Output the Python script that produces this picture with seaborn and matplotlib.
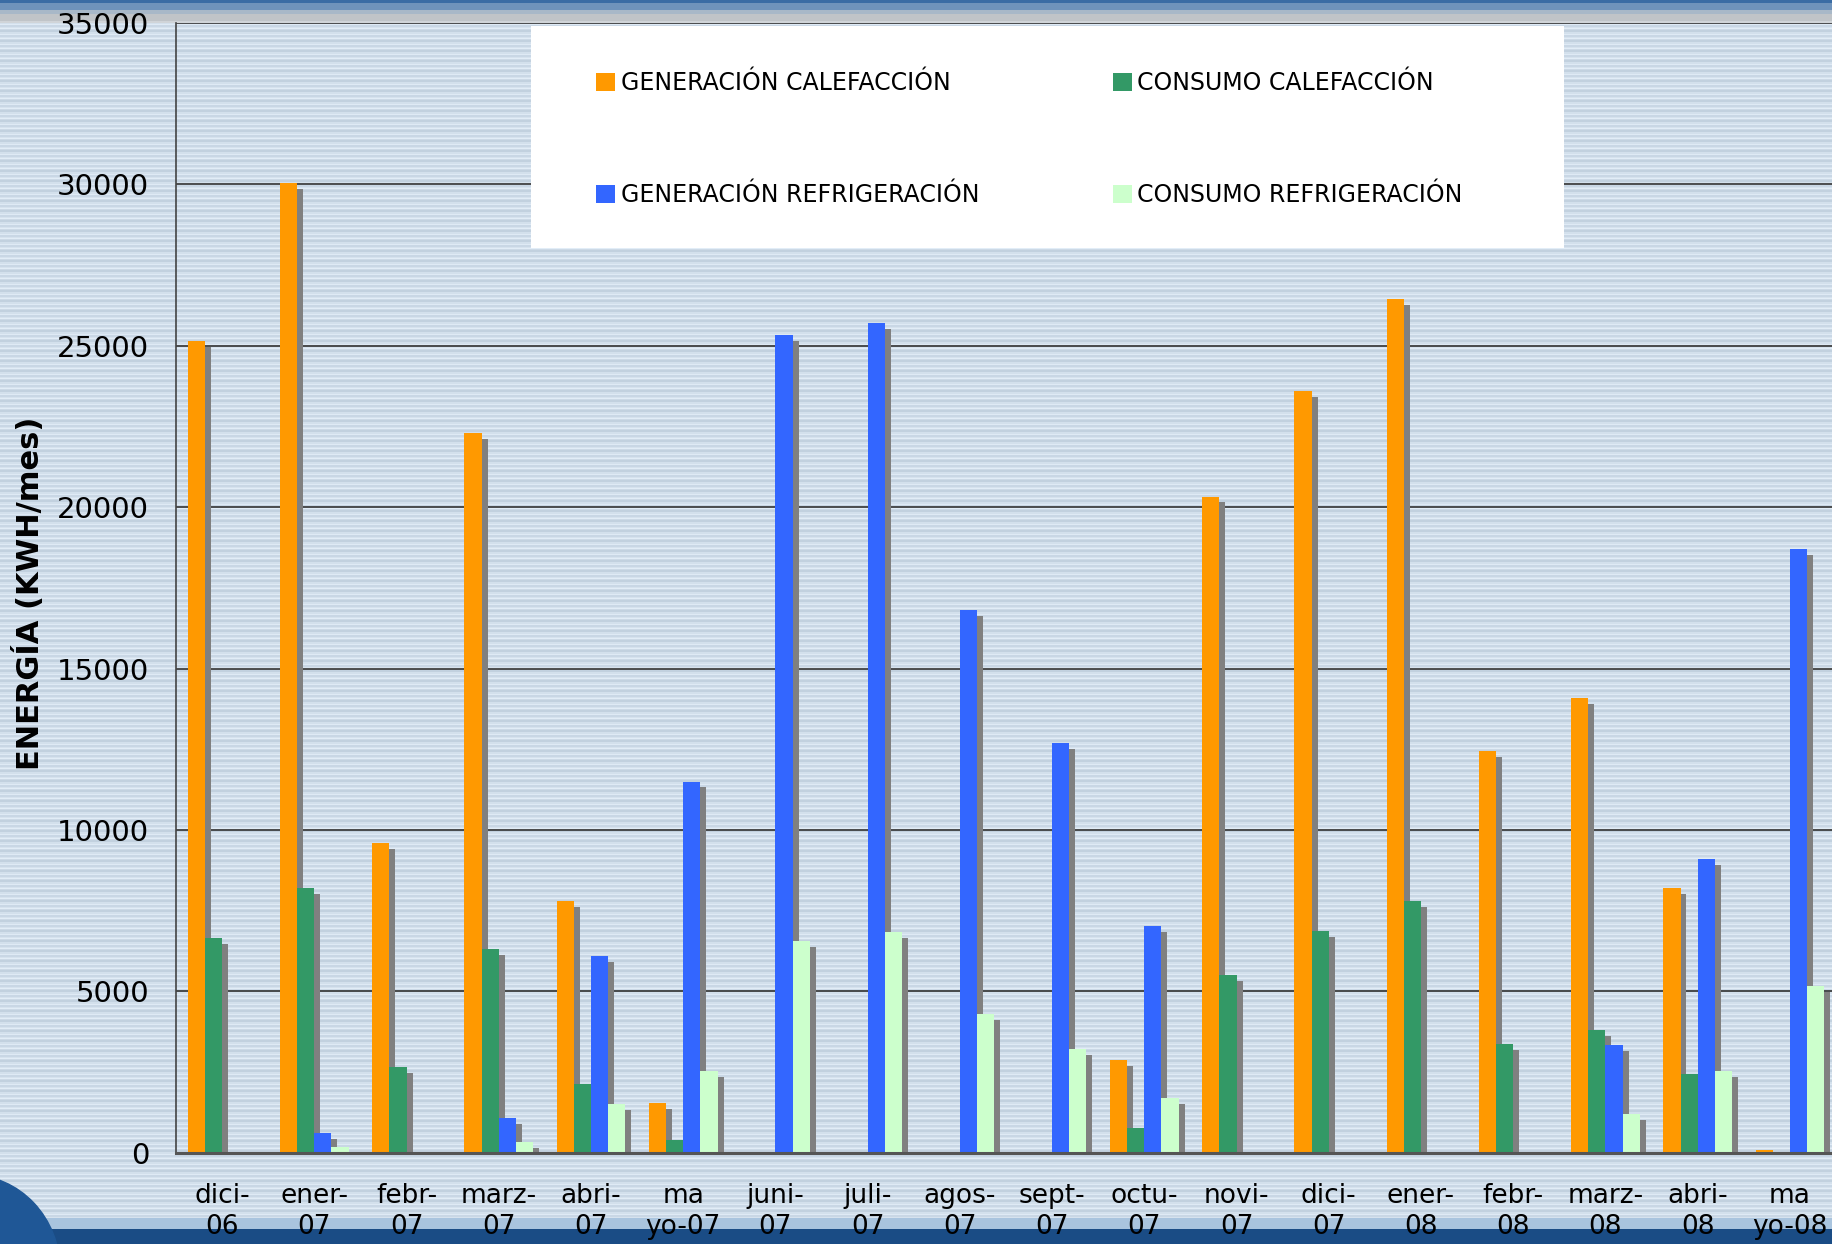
import numpy as np
import pandas as pd
import matplotlib
matplotlib.use("Agg")
import matplotlib.pyplot as plt
import matplotlib.patheffects as pe
from matplotlib.patches import Patch, Rectangle, Ellipse
from matplotlib.colors import to_rgb
import seaborn as sns

# datos (kWh/mes)
meses = ['dici-\n06', 'ener-\n07', 'febr-\n07', 'marz-\n07', 'abri-\n07', 'ma\nyo-07',
         'juni-\n07', 'juli-\n07', 'agos-\n07', 'sept-\n07', 'octu-\n07', 'novi-\n07',
         'dici-\n07', 'ener-\n08', 'febr-\n08', 'marz-\n08', 'abri-\n08', 'ma\nyo-08']
gen_cal = [25150, 30050, 9580, 22300, 7800, 1540, 0, 0, 0, 0, 2880, 20330,
           23600, 26450, 12450, 14100, 8200, 80]
cons_cal = [6650, 8200, 2650, 6310, 2130, 380, 0, 0, 0, 0, 750, 5500,
            6870, 7800, 3370, 3800, 2440, 30]
gen_ref = [0, 610, 0, 1075, 6100, 11500, 25330, 25720, 16820, 12700, 7010, 0,
           0, 0, 0, 3340, 9100, 18700]
cons_ref = [0, 180, 0, 330, 1510, 2520, 6570, 6830, 4300, 3210, 1690, 0,
            0, 0, 0, 1200, 2530, 5170]

series = ['GENERACIÓN CALEFACCIÓN', 'CONSUMO CALEFACCIÓN',
          'GENERACIÓN REFRIGERACIÓN', 'CONSUMO REFRIGERACIÓN']
colores = ['#ff9900', '#339966', '#3366ff', '#ccffcc']

df = pd.DataFrame({'mes': meses * 4,
                   'serie': np.repeat(series, len(meses)),
                   'valor': gen_cal + cons_cal + gen_ref + cons_ref})

sns.set_style("white")
plt.rcParams['font.family'] = ['DejaVu Sans']
plt.rcParams['text.color'] = 'black'
plt.rcParams['xtick.color'] = 'black'
plt.rcParams['ytick.color'] = 'black'

W, H = 1832, 1244
fig = plt.figure(figsize=(W / 100, H / 100), dpi=100)

# fondo rayado
patron = ['#c2d1df', '#c2d1df', '#d3e0ec', '#d3e0ec', '#dfeaf5',
          '#c9d7e5', '#c9d7e5', '#d6e2ee', '#e2edf7', '#ccd9e6']
filas = [to_rgb(patron[i % len(patron)]) for i in range(H)]
arriba = ['#3a6ca4'] * 3 + ['#6f93bb'] * 7 + ['#a8b8c8'] * 4 + ['#c0c4c8'] * 7 + ['#d0d4d8'] * 2
for i, c in enumerate(arriba):
    filas[i] = to_rgb(c)
for i in range(1218, 1229):
    filas[i] = to_rgb('#a9c4de')
for i in range(1229, H):
    filas[i] = to_rgb('#1a4c85')
bg = fig.add_axes([0, 0, 1, 1], zorder=-1)
bg.imshow(np.array(filas)[:, None, :], aspect='auto', extent=(0, W, H, 0))
bg.add_patch(Ellipse((-30, 1270), 180, 190, color='#1f5796', zorder=3))
bg.set_xlim(0, W)
bg.set_ylim(H, 0)
bg.axis('off')

ax = fig.add_axes([176 / W, 1 - 1152.7 / H, 1660 / W, 1129.7 / H])
ax.set_facecolor('none')

sns.barplot(data=df, x='mes', y='valor', hue='serie', hue_order=series,
            palette=colores, width=0.744, gap=0, saturation=1,
            errorbar=None, legend=False, ax=ax)
# sombra gris desplazada
sombra = [pe.SimplePatchShadow(offset=(4.3, -4.3), shadow_rgbFace='#808080', alpha=1.0),
          pe.Normal()]
for p in ax.patches:
    p.set_zorder(2)
    p.set_linewidth(0)
    p.set_path_effects(sombra)

ax.set_xlim(-0.5, len(meses) - 0.5)
ax.set_ylim(0, 35000)
ax.set_yticks(range(0, 35001, 5000))
ax.set_xlabel('')
ax.set_ylabel('')
ax.yaxis.grid(True, color='#333333', lw=1.2, zorder=0)
ax.set_axisbelow(True)
for s in ['top', 'right']:
    ax.spines[s].set_visible(False)
ax.spines['left'].set_color('#444444')
ax.spines['left'].set_linewidth(1.2)
ax.spines['bottom'].set_color('#555555')
ax.spines['bottom'].set_linewidth(2.2)
ax.spines['bottom'].set_zorder(3)

ax.set_xticks(np.arange(-0.5, len(meses), 1), minor=True)
ax.tick_params(axis='x', which='major', length=0, pad=22, labelsize=19, labelcolor='black')
ax.tick_params(axis='x', which='minor', length=7.2, width=1.2, color='#222222', direction='out')
ax.tick_params(axis='y', length=7.2, width=1.2, color='#333333', pad=12, labelsize=21,
               labelcolor='black')
for t in ax.get_xticklabels():
    t.set_linespacing(1.25)

fig.text(29 / W, 1 - 593 / H, 'ENERGÍA (KWH/mes)', rotation=90, ha='center', va='center',
         fontsize=22, fontweight='bold', color='black')

# leyenda
fig.patches.append(Rectangle((531 / W, 1 - 248 / H), 1033 / W, 222 / H,
                             transform=fig.transFigure, facecolor='white',
                             edgecolor='none', zorder=4))
orden = [0, 2, 1, 3]
handles = [Patch(facecolor=colores[i], edgecolor='none') for i in orden]
leg = fig.legend(handles, [series[i] for i in orden], ncol=2, frameon=False,
                 loc='upper left', bbox_to_anchor=(596 / W, 1 - 71.5 / H),
                 fontsize=17, handlelength=0.8, handleheight=0.8, handletextpad=0.25,
                 columnspacing=5.65, labelspacing=3.7, borderpad=0, borderaxespad=0)
for t in leg.get_texts():
    t.set_color('black')

fig.savefig('out.png', dpi=100)
